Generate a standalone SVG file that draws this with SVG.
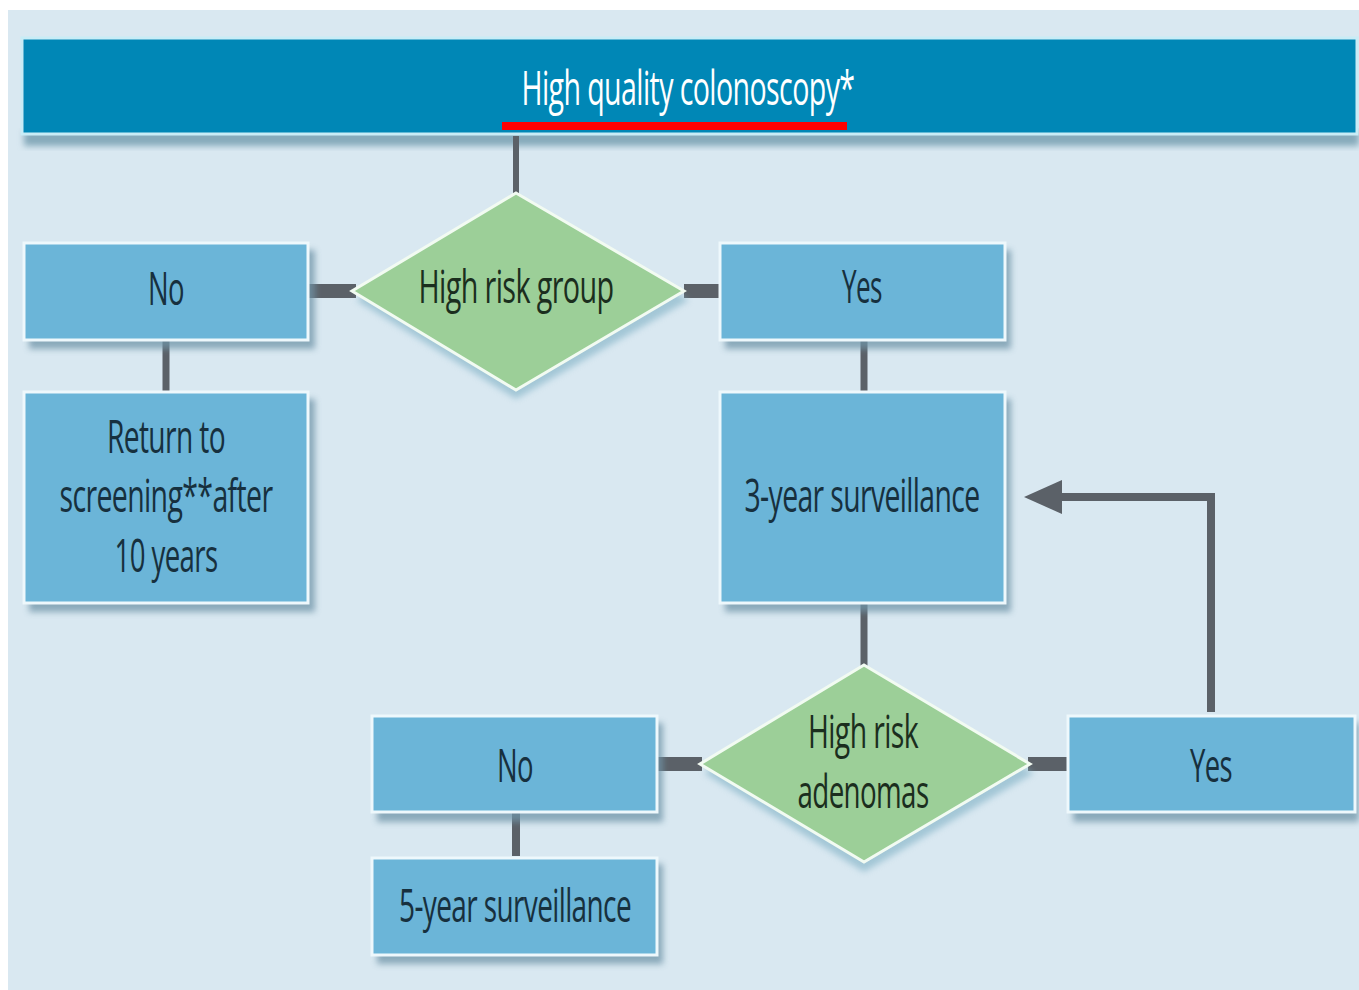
<svg xmlns="http://www.w3.org/2000/svg" width="1359" height="990" viewBox="0 0 1359 990">
<style>
.box{fill:#6bb5d8;stroke:#eef8fc;stroke-width:3}
.shadow{fill:#6f94a8;opacity:0.75}
.dia{fill:#9ccf98;stroke:#f2fbf2;stroke-width:3}
.conn{stroke:#5b6168;fill:none}
.t{font-family:"Open Sans","DejaVu Sans",sans-serif;font-size:46px;text-anchor:middle;fill:#17303e;letter-spacing:-1px}
.dt{fill:#1b2e1e}
</style>
<defs>
<filter id="blur" x="-10%" y="-10%" width="130%" height="140%"><feGaussianBlur stdDeviation="3"/></filter>
</defs>
<rect x="0" y="0" width="1359" height="990" fill="#ffffff"/>
<rect x="8" y="10" width="1351" height="980" fill="#d9e8f1"/>

<g id="header">
<rect x="24" y="130" width="1335" height="16" fill="#86aabb" filter="url(#blur)"/>
<rect x="22" y="38" width="1335" height="96" fill="#0087b6" stroke="#c8ecf6" stroke-width="3"/>
<text class="t" x="688" y="105" style="fill:#ffffff;font-size:48px" textLength="333" lengthAdjust="spacingAndGlyphs">High quality colonoscopy*</text>
<rect x="502" y="122" width="345" height="8" fill="#ff0000"/>
</g>

<g id="connectors">
<line class="conn" x1="516" y1="136" x2="516" y2="193" stroke-width="6"/>
<line class="conn" x1="308" y1="291" x2="356" y2="291" stroke-width="14"/>
<line class="conn" x1="684" y1="291" x2="720" y2="291" stroke-width="14"/>
<line class="conn" x1="166" y1="340" x2="166" y2="392" stroke-width="7"/>
<line class="conn" x1="864" y1="340" x2="864" y2="392" stroke-width="7"/>
<line class="conn" x1="864" y1="603" x2="864" y2="666" stroke-width="7"/>
<line class="conn" x1="657" y1="764" x2="702" y2="764" stroke-width="14"/>
<line class="conn" x1="1028" y1="764" x2="1068" y2="764" stroke-width="14"/>
<line class="conn" x1="516" y1="812" x2="516" y2="856" stroke-width="8"/>
<polyline class="conn" points="1211,712 1211,497 1058,497" stroke-width="8"/>
<polygon points="1024,497 1062,480 1062,514" fill="#5b6168"/>
</g>

<g id="no1">
<rect class="shadow" x="29" y="250" width="286" height="99" filter="url(#blur)"/>
<rect class="box" x="24" y="243" width="284" height="97"/>
<text class="t" x="166" y="305" textLength="36" lengthAdjust="spacingAndGlyphs">No</text>
</g>

<g id="decision1">
<polygon points="516,203 689,300 516,399 356,300" fill="#7fb0c4" opacity="0.6" filter="url(#blur)"/>
<polygon class="dia" points="516,193 684,291 516,390 352,291"/>
<text class="t dt" x="516" y="303" textLength="195" lengthAdjust="spacingAndGlyphs">High risk group</text>
</g>

<g id="yes1">
<rect class="shadow" x="725" y="250" width="286" height="99" filter="url(#blur)"/>
<rect class="box" x="720" y="243" width="285" height="97"/>
<text class="t" x="862" y="303" textLength="40" lengthAdjust="spacingAndGlyphs">Yes</text>
</g>

<g id="return">
<rect class="shadow" x="29" y="399" width="286" height="213" filter="url(#blur)"/>
<rect class="box" x="24" y="392" width="284" height="211"/>
<text class="t" x="166" y="453" textLength="118" lengthAdjust="spacingAndGlyphs">Return to</text>
<text class="t" x="166" y="512" textLength="213" lengthAdjust="spacingAndGlyphs">screening**after</text>
<text class="t" x="166" y="572" textLength="103" lengthAdjust="spacingAndGlyphs">10 years</text>
</g>

<g id="surv3">
<rect class="shadow" x="725" y="399" width="286" height="213" filter="url(#blur)"/>
<rect class="box" x="720" y="392" width="285" height="211"/>
<text class="t" x="862" y="512" textLength="235" lengthAdjust="spacingAndGlyphs">3-year surveillance</text>
</g>

<g id="decision2">
<polygon points="864,675 1034,773 864,872 704,773" fill="#7fb0c4" opacity="0.6" filter="url(#blur)"/>
<polygon class="dia" points="864,665 1030,764 864,862 700,764"/>
<text class="t dt" x="863" y="748" textLength="110" lengthAdjust="spacingAndGlyphs">High risk</text>
<text class="t dt" x="863" y="808" textLength="131" lengthAdjust="spacingAndGlyphs">adenomas</text>
</g>

<g id="no2">
<rect class="shadow" x="377" y="723" width="286" height="99" filter="url(#blur)"/>
<rect class="box" x="372" y="716" width="285" height="96"/>
<text class="t" x="515" y="782" textLength="36" lengthAdjust="spacingAndGlyphs">No</text>
</g>

<g id="yes2">
<rect class="shadow" x="1073" y="723" width="286" height="99" filter="url(#blur)"/>
<rect class="box" x="1068" y="716" width="287" height="96"/>
<text class="t" x="1211" y="782" textLength="42" lengthAdjust="spacingAndGlyphs">Yes</text>
</g>

<g id="surv5">
<rect class="shadow" x="377" y="864" width="286" height="100" filter="url(#blur)"/>
<rect class="box" x="372" y="858" width="285" height="97"/>
<text class="t" x="515" y="922" textLength="232" lengthAdjust="spacingAndGlyphs">5-year surveillance</text>
</g>
</svg>
